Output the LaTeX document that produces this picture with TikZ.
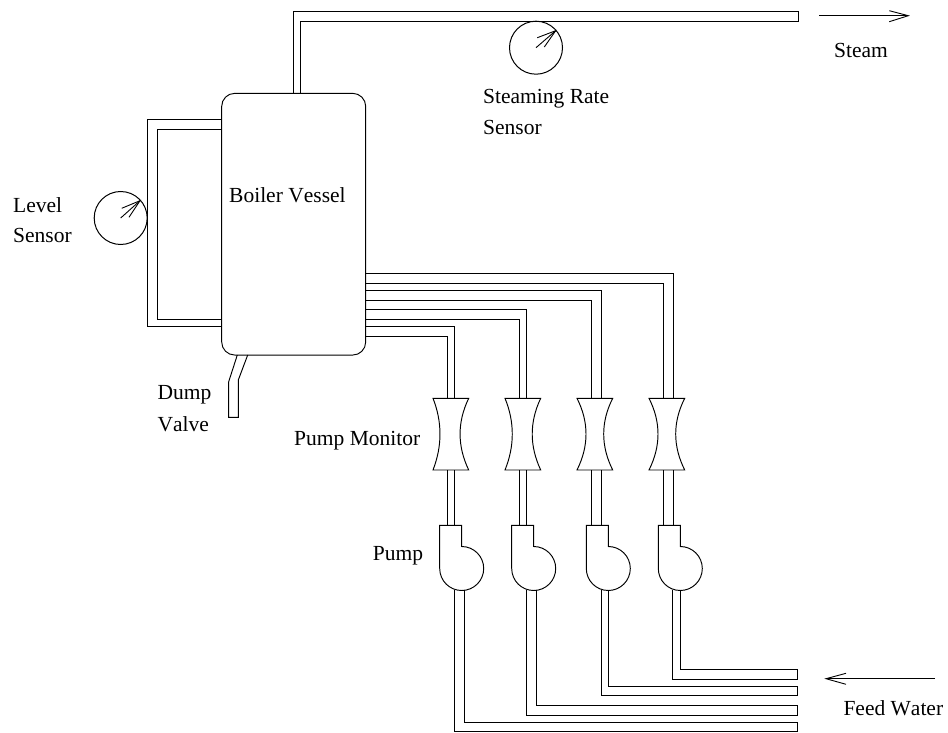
\documentclass[tikz,border=0pt]{standalone}
\usepackage{fontspec}
\setmainfont[Kerning=Off]{Liberation Serif}
\tikzset{
  x=1pt,y=-1pt,
  pipe/.style={line width=0.95pt,line join=miter},
  lab/.style={inner sep=0pt,font=\fontsize{21.5}{24}\selectfont,anchor=base west},
  gauge/.style={circle,draw,line width=1pt,minimum size=53pt,inner sep=0pt},
  needle/.style={line width=0.9pt},
}
\begin{document}
\begin{tikzpicture}
\useasboundingbox (0,0) rectangle (948,733);
% steam pipe
\draw[pipe] (293.7,93.3) -- (293.7,11.7) -- (798,11.7) -- (798,21) -- (300.7,21) -- (300.7,93.3);
% level sensor loop
\draw[pipe] (221.7,119.7) -- (147.3,119.7) -- (147.3,326) -- (221.7,326);
\draw[pipe] (221.7,129.3) -- (157,129.3) -- (157,319) -- (221.7,319);
% dump valve
\draw[pipe] (237.3,355) -- (228.7,381.7) -- (228.7,417.3) -- (238.3,417.3) -- (238.3,380) -- (247.7,355);
% feed manifolds
\draw[pipe] (365.7,273.3) -- (673,273.3) -- (673,398.3);
\draw[pipe] (365.7,283.3) -- (663.3,283.3) -- (663.3,398.3);
\draw[pipe] (365.7,290.3) -- (601,290.3) -- (601,398.3);
\draw[pipe] (365.7,300) -- (591.3,300) -- (591.3,398.3);
\draw[pipe] (365.7,309.7) -- (526.7,309.7) -- (526.7,398.3);
\draw[pipe] (365.7,319.3) -- (519.2,319.3) -- (519.2,398.3);
\draw[pipe] (365.7,326.3) -- (454.7,326.3) -- (454.7,398.3);
\draw[pipe] (365.7,336) -- (447.2,336) -- (447.2,398.3);
% boiler
\node[draw,line width=0.95pt,rounded corners=13pt,minimum width=144pt,minimum height=261.7pt,inner sep=0pt] (boiler) at (293.7,224.2) {};
% monitors
\foreach \l/\r/\cl/\cr in {433/468.7/442.3/457.2,505/540.7/514.7/529.4,577/612.7/589/600.7,649/684.7/661/672.7}{
  \draw[pipe] (\l,398.3) -- (\r,398.3) .. controls (\cr,422) and (\cr,446) .. (\r,470)
     -- (\l,470) .. controls (\cl,446) and (\cl,422) .. (\l,398.3) -- cycle;
}
% pipes from monitor to pump
\foreach \a/\b in {447.2/454.5,519.2/526.7,591.3/601,663.3/673}{
  \draw[pipe] (\a,470) -- (\a,525.3);
  \draw[pipe] (\b,470) -- (\b,525.3);
}
% pumps
\foreach \l/\s in {439.7/461.7,511.7/533.7,586.3/608.3,658.3/680.3}{
  \draw[pipe] (\l,568.5) -- (\l,525.3) -- (\s,525.3) -- (\s,546.5)
    arc[start angle=90,end angle=-180,radius=22pt];
}
% pipes to feed water
\draw[pipe] (680,590) -- (680,669.3) -- (797.7,669.3) -- (797.7,679) -- (672.7,679) -- (672.7,590);
\draw[pipe] (608,590) -- (608,686) -- (797.7,686) -- (797.7,695.7) -- (601,695.7) -- (601,590);
\draw[pipe] (536,590) -- (536,705.3) -- (797.7,705.3) -- (797.7,715) -- (526.7,715) -- (526.7,590);
\draw[pipe] (464,590) -- (464,722) -- (797.7,722) -- (797.7,731.7) -- (454.7,731.7) -- (454.7,590);
% gauges
\node[gauge] (levelgauge) at (120.7,218) {};
\node[gauge] (rategauge) at (536,47.7) {};
\coordinate (lt) at (140,200.7);
\coordinate (rt) at (555.7,30.7);
\draw[needle] (levelgauge.center) -- (lt);
\draw[needle] (121.7,208.3) -- (lt) -- (129,217.3);
\draw[needle] (rategauge.center) -- (rt);
\draw[needle] (537.3,37.7) -- (rt) -- (544.3,47);
% flow arrows
\coordinate (steamA) at (819.3,15.7);
\coordinate (steamB) at (908.3,15.7);
\coordinate (feedA) at (935,678.7);
\coordinate (feedB) at (826,678.7);
\draw[needle] (steamA) -- (steamB);
\draw[needle] (889.3,10.7) -- (steamB) -- (889.3,21.7);
\draw[needle] (feedA) -- (feedB);
\draw[needle] (846,673.3) -- (feedB) -- (846,684.3);
% labels
\node[lab] (tboiler) at (229,202) {Boiler Vessel};
\node[lab] (tlevel) at (13,212) {Level};
\node[lab] (tsensor) at (13,242.7) {Sensor};
\node[lab] (tdump) at (157.3,399) {Dump};
\node[lab] (tvalve) at (157.3,431.5) {Valve};
\node[lab] (tmon) at (294,445.5) {Pump Monitor};
\node[lab] (tpump) at (372.7,560) {Pump};
\node[lab] (trate) at (483,103.7) {Steaming Rate};
\node[lab] (trates) at (483,135) {Sensor};
\node[lab] (tsteam) at (834,58) {Steam};
\node[lab] (tfeed) at (843.3,715) {Feed Water};
\end{tikzpicture}
\end{document}
